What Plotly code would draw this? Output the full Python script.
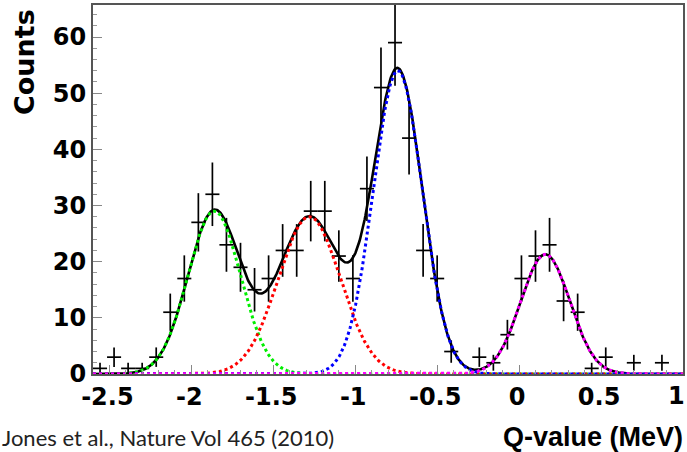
import numpy as np
import plotly.graph_objects as go

# Histogram binning of the Q-value spectrum (MeV)
bin_lo, bin_hi, n_bins = -2.6, 1.0, 42

# Counts per bin
counts = [1, 3, 1, 1, 3, 11, 17, 27, 32, 23,
          19, 15, 17, 22, 22, 29, 29, 21, 17, 33,
          51, 59, 42, 22, 17, 4, 0, 3, 2, 7,
          17, 21, 23, 13, 11, 1, 3, 0, 2, 0,
          2, 0]

# Gaussian fit components: amplitude, mean (MeV), sigma (MeV)
peak_amp = [29.0, 28.0, 54.0, 21.3]
peak_mu = [-1.86, -1.28, -0.74, 0.16]
peak_sigma = [0.16, 0.19, 0.15, 0.15]
peak_color = ["#00ee00", "#ff0000", "#0000ff", "#ff00ff"]

x_ticks = [-2.5, -2, -1.5, -1, -0.5, 0, 0.5, 1]
x_tick_text = ["-2.5", "-2", "-1.5", "-1", "-0.5", "0", "0.5", "1"]
y_ticks = [0, 10, 20, 30, 40, 50, 60]

edges = np.linspace(bin_lo, bin_hi, n_bins + 1)
centers = 0.5 * (edges[:-1] + edges[1:])
half_w = 0.5 * (edges[1] - edges[0])

cnt = np.array(counts, dtype=float)
mask = cnt > 0
xd = centers[mask]
yd = cnt[mask]
err = np.sqrt(yd)

fig = go.Figure()

# data points with Poisson errors
fig.add_trace(go.Scatter(
    x=xd, y=yd, mode="markers",
    marker=dict(size=1, color="black", opacity=0),
    error_x=dict(type="constant", value=half_w, color="black", thickness=1.7, width=0),
    error_y=dict(type="data", array=err, color="black", thickness=1.7, width=0),
    showlegend=False, hoverinfo="skip",
))

xf = np.linspace(bin_lo, bin_hi, 900)
comps = [a * np.exp(-0.5 * ((xf - m) / s) ** 2)
         for a, m, s in zip(peak_amp, peak_mu, peak_sigma)]
total = np.sum(comps, axis=0)

# total fit
fig.add_trace(go.Scatter(x=xf, y=total, mode="lines",
                         line=dict(color="black", width=2.6),
                         showlegend=False, hoverinfo="skip"))

# individual components
for comp, col in zip(comps, peak_color):
    fig.add_trace(go.Scatter(x=xf, y=comp, mode="lines",
                             line=dict(color=col, width=3, dash="dot"),
                             showlegend=False, hoverinfo="skip"))

tick_font = dict(family="DejaVu Sans", size=24, color="black", weight="bold")
axis_common = dict(
    showgrid=False, zeroline=False, automargin=False,
    showline=True, mirror=True, linecolor="#555555", linewidth=2,
    ticks="inside", ticklen=9, tickwidth=1, tickcolor="#888888",
    tickfont=tick_font,
)

# the label at the right end of the axis is placed separately so it stays
# inside the page; all other labels come from the axis itself
axis_text = x_tick_text[:-1] + [""]

fig.update_xaxes(range=[bin_lo, bin_hi], tickvals=x_ticks, ticktext=axis_text,
                 ticklabelshift=-2,
                 minor=dict(dtick=0.1, ticks="inside", ticklen=4, tickcolor="#999999"),
                 **axis_common)
fig.update_yaxes(range=[0, 65.7], tickvals=y_ticks,
                 minor=dict(dtick=2, ticks="inside", ticklen=4, tickcolor="#999999"),
                 **axis_common)

fig.update_layout(
    width=687, height=452,
    margin=dict(l=93, r=4, t=5, b=78),
    paper_bgcolor="white", plot_bgcolor="white",
    annotations=[
        dict(text=x_tick_text[-1], xref="paper", yref="paper", x=1.0, y=-0.0596,
             xanchor="right", yanchor="middle", xshift=4, showarrow=False,
             font=tick_font),
        dict(text="Counts", xref="paper", yref="paper", x=-0.115, y=0.995,
             xanchor="center", yanchor="top", textangle=-90, showarrow=False,
             font=dict(family="DejaVu Sans", size=27, color="black", weight="bold")),
        dict(text="Q-value (MeV)", xref="paper", yref="paper", x=1.003, y=-0.171,
             xanchor="right", yanchor="middle", showarrow=False,
             font=dict(family="Liberation Sans", size=27, color="black", weight="bold")),
        dict(text="Jones et al., Nature Vol 465 (2010)", xref="paper", yref="paper",
             x=-0.158, y=-0.171, xanchor="left", yanchor="middle", showarrow=False,
             font=dict(family="Lato", size=22, color="#222222")),
    ],
)

fig.write_html("out.html")
